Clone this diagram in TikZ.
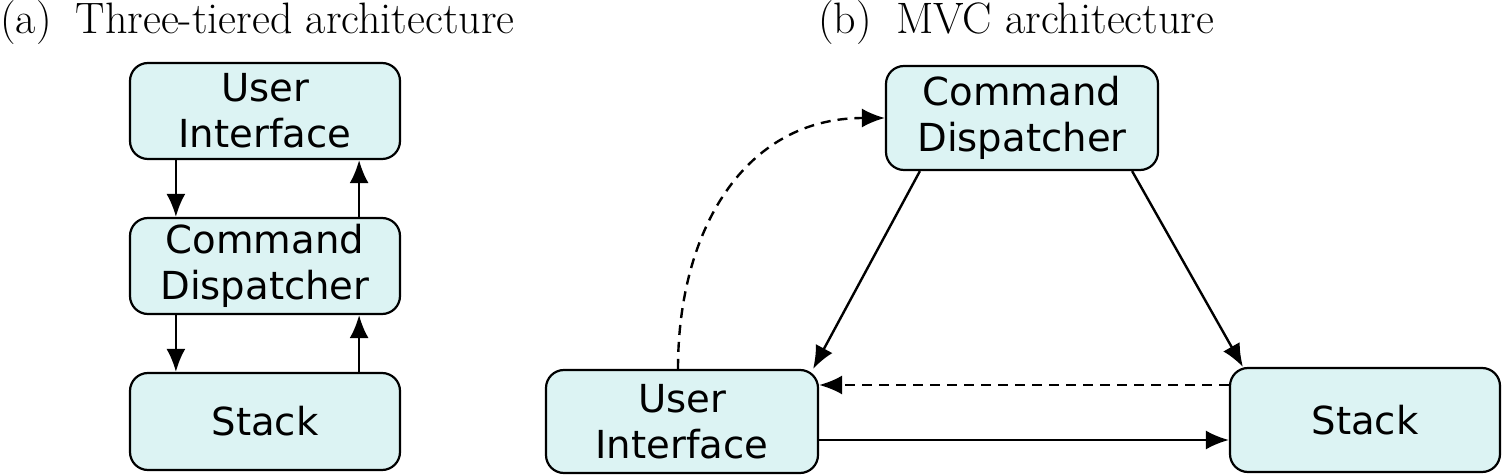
\documentclass[tikz,border=0pt]{standalone}
\usepackage{fontspec}
\newfontfamily\boxfont{DejaVu Sans}
\usetikzlibrary{arrows.meta,calc}
\definecolor{boxfill}{HTML}{DCF3F3}
\tikzset{
  blk/.style={draw=black, line width=1.1pt, fill=boxfill, rounded corners=9pt,
    align=center, inner sep=0pt, font=\boxfont\fontsize{19.3}{23}\selectfont},
  conn/.style={line width=1.2pt, -{Latex[length=11.5pt,width=9.5pt]}},
  dconn/.style={conn, dash pattern=on 5pt off 3.5pt},
  ttl/.style={anchor=base west, inner sep=0pt, font=\fontsize{22}{26}\selectfont}
}
\begin{document}
\begin{tikzpicture}[x=0.5pt,y=-0.5pt]
\useasboundingbox (0,0) rectangle (1504,475);
% titles
\node[ttl] (ta) at (0,34) {(a)\hspace{12pt}Three-tiered architecture};
\node[ttl] (tb) at (818,34) {(b)\hspace{12pt}MVC architecture};
% panel (a)
\node[blk, minimum width=135pt, minimum height=48pt] (lui) at (265,111) {User\\Interface};
\node[blk, minimum width=135pt, minimum height=48pt] (lcd) at (265,266) {Command\\Dispatcher};
\node[blk, minimum width=135pt, minimum height=48.5pt] (lst) at (265,421.5) {Stack};
\draw[conn] ($(lui.south west)+(47,0)$) -- ($(lcd.north west)+(47,0)$);
\draw[conn] ($(lcd.south west)+(47,0)$) -- ($(lst.north west)+(47,0)$);
\draw[conn] ($(lcd.north east)+(-42,0)$) -- ($(lui.south east)+(-42,0)$);
\draw[conn] ($(lst.north east)+(-42,0)$) -- ($(lcd.south east)+(-42,0)$);
% panel (b)
\node[blk, minimum width=136pt, minimum height=52pt] (rcd) at (1022,118) {Command\\Dispatcher};
\node[blk, minimum width=136pt, minimum height=51.5pt] (rui) at (682,421.5) {User\\Interface};
\node[blk, minimum width=135pt, minimum height=52pt] (rst) at (1365,420) {Stack};
\draw[conn] ($(rcd.south west)+(35,0)$) -- ($(rui.north east)+(-6,0)$);
\draw[conn] ($(rcd.south east)+(-27,0)$) -- ($(rst.north west)+(14,0)$);
\draw[dconn] ($(rui.north)+(-4,0)$) to[out=90,in=180,looseness=1.1] (rcd.west);
\draw[dconn] ($(rst.west)+(0,-35)$) -- ($(rui.east)+(0,-36.5)$);
\draw[conn] ($(rui.east)+(0,18.5)$) -- ($(rst.west)+(0,20)$);
\end{tikzpicture}
\end{document}
